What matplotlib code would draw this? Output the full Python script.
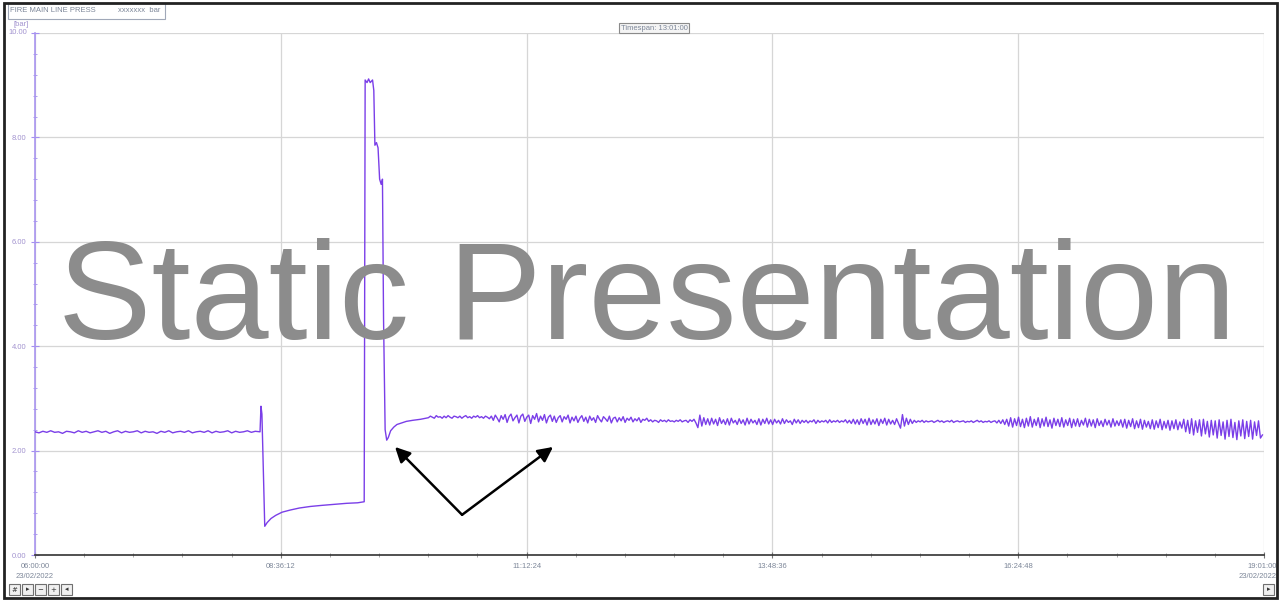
import numpy as np
import matplotlib
matplotlib.use("Agg")
import matplotlib.pyplot as plt
import matplotlib.transforms as mtransforms
from matplotlib.patches import Rectangle
from matplotlib.ticker import MultipleLocator

# ---------------- data (minutes after 06:00:00, pressure in bar) ----------------
pre_t = [2.5 * i for i in range(58)]
pre_v = [
    2.36, 2.34, 2.37, 2.35, 2.38, 2.35, 2.36, 2.33, 2.37, 2.36, 2.34, 2.38, 2.35, 2.37, 2.34, 2.36,
    2.38, 2.35, 2.37, 2.33, 2.36, 2.38, 2.34, 2.37, 2.35, 2.36, 2.38, 2.34, 2.37, 2.35, 2.36, 2.33,
    2.37, 2.35, 2.38, 2.34, 2.36, 2.37, 2.35, 2.38, 2.34, 2.36, 2.37, 2.35, 2.38, 2.34, 2.37, 2.35,
    2.36, 2.38, 2.34, 2.37, 2.35, 2.36, 2.38, 2.35, 2.37, 2.36,
]

event_t = [143.0, 143.6, 144.2, 146.0, 147.5, 150, 153, 157, 162, 168, 175, 182, 190, 198,
           205, 209.2, 209.8, 211, 212, 213, 214.5, 215.3, 216, 217, 218, 219, 220, 220.8,
           221.5, 222.5, 223.5, 224.5, 226, 228, 230, 233, 236, 240, 245]
event_v = [2.36, 2.85, 2.70, 0.55, 0.62, 0.70, 0.76, 0.82, 0.86, 0.90, 0.93, 0.95, 0.97, 0.99,
           1.00, 1.02, 9.10, 9.05, 9.12, 9.05, 9.10, 8.90, 7.85, 7.90, 7.80, 7.20, 7.10, 7.20,
           4.50, 2.40, 2.20, 2.25, 2.38, 2.45, 2.50, 2.53, 2.56, 2.58, 2.60]

steady_t = [250 + 1.25 * i for i in range(425)]
steady_v = [
    2.63, 2.66, 2.64, 2.62, 2.67, 2.64, 2.65, 2.62, 2.66, 2.63, 2.67, 2.64, 2.62, 2.66, 2.65, 2.63,
    2.66, 2.62, 2.65, 2.67, 2.63, 2.65, 2.62, 2.66, 2.64, 2.67, 2.63, 2.65, 2.62, 2.66, 2.64, 2.61,
    2.66, 2.58, 2.68, 2.62, 2.55, 2.67, 2.60, 2.69, 2.54, 2.65, 2.70, 2.57, 2.63, 2.68, 2.53, 2.66,
    2.70, 2.56, 2.64, 2.68, 2.52, 2.67, 2.60, 2.71, 2.55, 2.66, 2.58, 2.69, 2.53, 2.64, 2.68, 2.56,
    2.66, 2.54, 2.63, 2.67, 2.55, 2.65, 2.60, 2.68, 2.53, 2.64, 2.57, 2.66, 2.54, 2.62, 2.67, 2.56,
    2.64, 2.53, 2.66, 2.58, 2.63, 2.54, 2.67, 2.60, 2.55, 2.65, 2.61, 2.56, 2.66, 2.53, 2.62, 2.64,
    2.55, 2.63, 2.57, 2.65, 2.54, 2.62, 2.58, 2.64, 2.55, 2.61, 2.57, 2.63, 2.54, 2.60, 2.58, 2.62,
    2.56, 2.59, 2.55, 2.58, 2.57, 2.54, 2.59, 2.56, 2.58, 2.55, 2.59, 2.56, 2.57, 2.55, 2.58, 2.56,
    2.59, 2.55, 2.57, 2.58, 2.54, 2.59, 2.56, 2.60, 2.53, 2.44, 2.68, 2.47, 2.63, 2.50, 2.61, 2.49,
    2.62, 2.51, 2.60, 2.48, 2.63, 2.52, 2.59, 2.50, 2.61, 2.49, 2.62, 2.53, 2.58, 2.50, 2.61, 2.52,
    2.59, 2.49, 2.62, 2.51, 2.60, 2.53, 2.58, 2.50, 2.61, 2.49, 2.60, 2.52, 2.62, 2.51, 2.59, 2.50,
    2.60, 2.53, 2.58, 2.51, 2.61, 2.52, 2.59, 2.54, 2.57, 2.50, 2.60, 2.53, 2.59, 2.52, 2.58, 2.54,
    2.58, 2.53, 2.57, 2.55, 2.59, 2.52, 2.58, 2.54, 2.57, 2.55, 2.58, 2.53, 2.59, 2.54, 2.57, 2.55,
    2.58, 2.54, 2.57, 2.55, 2.59, 2.53, 2.58, 2.52, 2.60, 2.51, 2.59, 2.50, 2.61, 2.52, 2.60, 2.49,
    2.62, 2.50, 2.59, 2.51, 2.61, 2.48, 2.60, 2.52, 2.62, 2.49, 2.60, 2.51, 2.58, 2.50, 2.61, 2.52,
    2.43, 2.69, 2.47, 2.62, 2.50, 2.60, 2.52, 2.58, 2.54, 2.57, 2.55, 2.58, 2.54, 2.57, 2.55, 2.56,
    2.57, 2.54, 2.56, 2.58, 2.55, 2.57, 2.54, 2.56, 2.57, 2.55, 2.58, 2.54, 2.56, 2.57, 2.55, 2.56,
    2.57, 2.54, 2.56, 2.55, 2.57, 2.54, 2.56, 2.58, 2.55, 2.57, 2.54, 2.56, 2.55, 2.57, 2.54, 2.56,
    2.57, 2.53, 2.58, 2.52, 2.59, 2.50, 2.60, 2.47, 2.63, 2.45, 2.61, 2.48, 2.64, 2.46, 2.60, 2.44,
    2.62, 2.47, 2.65, 2.45, 2.60, 2.48, 2.63, 2.44, 2.61, 2.47, 2.64, 2.46, 2.59, 2.43, 2.62, 2.48,
    2.60, 2.46, 2.63, 2.45, 2.59, 2.48, 2.62, 2.44, 2.60, 2.47, 2.61, 2.46, 2.58, 2.49, 2.62, 2.45,
    2.60, 2.47, 2.59, 2.44, 2.61, 2.48, 2.57, 2.46, 2.60, 2.49, 2.58, 2.45, 2.61, 2.47, 2.57, 2.48,
    2.59, 2.45, 2.60, 2.43, 2.58, 2.46, 2.61, 2.42, 2.57, 2.44, 2.60, 2.41, 2.58, 2.45, 2.56, 2.42,
    2.59, 2.41, 2.57, 2.44, 2.60, 2.40, 2.56, 2.43, 2.58, 2.39, 2.57, 2.42, 2.59, 2.40, 2.55, 2.43,
    2.60, 2.36, 2.58, 2.33, 2.61, 2.30, 2.57, 2.35, 2.59, 2.28, 2.60, 2.32, 2.56, 2.26, 2.58, 2.30,
    2.57, 2.24, 2.59, 2.29, 2.55, 2.22, 2.58, 2.27, 2.60, 2.25, 2.54, 2.21, 2.57, 2.28, 2.59, 2.23,
    2.56, 2.27, 2.58, 2.22, 2.55, 2.29, 2.57, 2.24, 2.30,
]

x_ticks = [0, 156.2, 312.4, 468.6, 624.8, 781]
x_labels = ["06:00:00\n23/02/2022", "08:36:12", "11:12:24", "13:48:36", "16:24:48",
            "19:01:00\n23/02/2022"]
y_ticks = [0, 2, 4, 6, 8, 10]
y_labels = ["0.00", "2.00", "4.00", "6.00", "8.00", "10.00"]

t_all = pre_t + event_t + steady_t
v_all = pre_v + event_v + steady_v

# ---------------- figure ----------------
W, H = 1280, 601
fig = plt.figure(figsize=(W / 100, H / 100), dpi=100)
fig.patch.set_facecolor("white")

def fx(px):
    return px / W

def fy(py):
    return 1 - py / H

ax = fig.add_axes([fx(35), fy(555), fx(1264) - fx(35), fy(33) - fy(555)])
ax.set_xlim(0, 781)
ax.set_ylim(0, 10)

line_col = "#7a3ee8"
ax.plot(t_all, v_all, color=line_col, lw=1.0, zorder=3)

# grid
ax.set_xticks(x_ticks)
ax.set_yticks(y_ticks)
ax.grid(True, color="#d6d6d6", lw=0.9, zorder=0)
ax.xaxis.set_minor_locator(MultipleLocator(156.2 / 5))
ax.yaxis.set_minor_locator(MultipleLocator(0.4))

lab_font = {"family": "Liberation Sans", "size": 5.5}
ax.set_xticklabels(x_labels, color="#7d8799", fontdict=lab_font, linespacing=1.6)
ax.set_yticklabels([l if l != "10.00" else "" for l in y_labels], color="#a293cf", fontdict=lab_font)
ax.tick_params(axis="x", which="major", direction="inout", length=5, width=0.8, color="#777777", pad=3)
ax.tick_params(axis="x", which="minor", direction="inout", length=3, width=0.6, color="#999999")
ax.tick_params(axis="y", which="major", direction="inout", length=6, width=0.8, color="#a48ff0", pad=3)
ax.tick_params(axis="y", which="minor", direction="inout", length=3, width=0.6, color="#a48ff0")

# shift last x label so it stays inside the picture
last = ax.get_xticklabels()[-1]
last.set_ha("right")
last.set_transform(last.get_transform() + mtransforms.ScaledTranslation(13 / 100, 0, fig.dpi_scale_trans))

for s in ["top", "right"]:
    ax.spines[s].set_visible(False)
ax.spines["left"].set_color("#a995f0")
ax.spines["left"].set_linewidth(1.2)
ax.spines["bottom"].set_color("#333333")
ax.spines["bottom"].set_linewidth(1.2)

# watermark
fig.text(fx(647), fy(339), "Static Presentation", fontsize=101, family="Liberation Sans",
         color="#8c8c8c", ha="center", va="baseline", zorder=1)

# arrows
for tip in [(228.8, 2.07), (329.2, 2.07)]:
    ax.annotate("", xy=tip, xytext=(271.4, 0.77),
                arrowprops=dict(arrowstyle="-|>,head_length=0.9,head_width=0.45",
                                color="black", lw=1.8, shrinkA=0, shrinkB=0), zorder=5)

# header texts
small = dict(family="Liberation Sans", size=5.5, color="#7d8799")
fig.patches.append(Rectangle((fx(8), fy(19)), fx(157), 16 / H, transform=fig.transFigure,
                             fill=False, edgecolor="#a0a8b8", lw=0.8))
fig.text(fx(10), fy(11), "FIRE MAIN LINE PRESS", ha="left", va="center", **small)
fig.text(fx(118), fy(11), "xxxxxxx  bar", ha="left", va="center", **small)
fig.text(fx(14), fy(24), "[bar]", ha="left", va="center", family="Liberation Sans", size=5.5, color="#a293cf")
fig.text(fx(8), fy(33), "10.00", ha="left", va="center", family="Liberation Sans", size=5.5, color="#a293cf")
fig.text(fx(654), fy(28), "Timespan: 13:01:00", ha="center", va="center",
         bbox=dict(boxstyle="square,pad=0.25", fc="#f4f4f4", ec="#8a8a8a", lw=0.8), **small)

# bottom buttons
for i, g in enumerate(["#", "\u25B8", "\u2212", "+", "\u25C2"]):
    x0 = 9 + i * 13
    fig.patches.append(Rectangle((fx(x0), fy(595)), fx(11), 11 / H, transform=fig.transFigure,
                                 fill=True, fc="#f0f0f0", edgecolor="#707070", lw=0.8))
    fig.text(fx(x0 + 5.5), fy(589.5), g, ha="center", va="center", family="DejaVu Sans", size=5, color="#333333")
fig.patches.append(Rectangle((fx(1263), fy(595)), fx(11), 11 / H, transform=fig.transFigure,
                             fill=True, fc="#f0f0f0", edgecolor="#707070", lw=0.8))
fig.text(fx(1268.5), fy(589.5), "\u25B8", ha="center", va="center", family="DejaVu Sans", size=5, color="#333333")

# outer frame
fig.patches.append(Rectangle((fx(4), fy(598)), fx(1273), 595 / H, transform=fig.transFigure,
                             fill=False, edgecolor="#222222", lw=2))

fig.savefig("out.png", dpi=100, facecolor="white")
